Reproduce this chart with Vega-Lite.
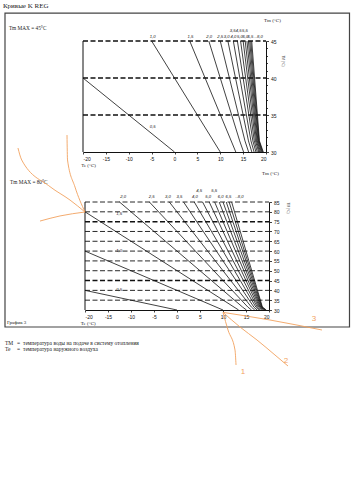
{
  "$schema": "https://vega.github.io/schema/vega-lite/v6.json",
  "width": 354,
  "height": 480,
  "autosize": "none",
  "padding": 0,
  "background": "white",
  "config": {
    "view": {"stroke": null},
    "axis": {"labelFont": "Liberation Sans", "labelFontSize": 5, "labelColor": "#111", "domainColor": "#111", "tickColor": "#111", "grid": false, "title": null, "domainWidth": 1, "tickWidth": 0.8}
  },
  "datasets": {
    "top_curves": [
      {"k": "0.5", "te": -20, "tm": 40}, {"k": "0.5", "te": 0, "tm": 30},
      {"k": "1.0", "te": -5, "tm": 45}, {"k": "1.0", "te": 10, "tm": 30},
      {"k": "1.5", "te": 3.33, "tm": 45}, {"k": "1.5", "te": 13.4, "tm": 30},
      {"k": "2.0", "te": 7.5, "tm": 45}, {"k": "2.0", "te": 14.25, "tm": 31.5}, {"k": "2.0", "te": 15.1, "tm": 30},
      {"k": "2.5", "te": 10, "tm": 45}, {"k": "2.5", "te": 15.4, "tm": 31.5}, {"k": "2.5", "te": 16.2, "tm": 30},
      {"k": "3.0", "te": 11.67, "tm": 45}, {"k": "3.0", "te": 16.17, "tm": 31.5}, {"k": "3.0", "te": 16.9, "tm": 30},
      {"k": "3.5", "te": 12.86, "tm": 45}, {"k": "3.5", "te": 16.71, "tm": 31.5}, {"k": "3.5", "te": 17.4, "tm": 30},
      {"k": "4.0", "te": 13.75, "tm": 45}, {"k": "4.0", "te": 17.13, "tm": 31.5}, {"k": "4.0", "te": 17.8, "tm": 30},
      {"k": "4.5", "te": 14.44, "tm": 45}, {"k": "4.5", "te": 17.44, "tm": 31.5}, {"k": "4.5", "te": 18.1, "tm": 30},
      {"k": "5.0", "te": 15, "tm": 45}, {"k": "5.0", "te": 17.7, "tm": 31.5}, {"k": "5.0", "te": 18.4, "tm": 30},
      {"k": "5.5", "te": 15.45, "tm": 45}, {"k": "5.5", "te": 17.91, "tm": 31.5}, {"k": "5.5", "te": 18.6, "tm": 30},
      {"k": "6.0", "te": 15.83, "tm": 45}, {"k": "6.0", "te": 18.08, "tm": 31.5}, {"k": "6.0", "te": 18.8, "tm": 30},
      {"k": "6.5", "te": 16.15, "tm": 45}, {"k": "6.5", "te": 18.23, "tm": 31.5}, {"k": "6.5", "te": 19.0, "tm": 30},
      {"k": "7.0", "te": 16.43, "tm": 45}, {"k": "7.0", "te": 18.36, "tm": 31.5}, {"k": "7.0", "te": 19.15, "tm": 30},
      {"k": "7.5", "te": 16.67, "tm": 45}, {"k": "7.5", "te": 18.47, "tm": 31.5}, {"k": "7.5", "te": 19.3, "tm": 30},
      {"k": "8.0", "te": 16.88, "tm": 45}, {"k": "8.0", "te": 18.56, "tm": 31.5}, {"k": "8.0", "te": 19.4, "tm": 30}
    ],
    "bottom_curves": [
      {"k": "0.5", "te": -20, "tm": 40}, {"k": "0.5", "te": 0, "tm": 30},
      {"k": "1.0", "te": -20, "tm": 60}, {"k": "1.0", "te": 10, "tm": 30},
      {"k": "1.5", "te": -20, "tm": 80}, {"k": "1.5", "te": 13.4, "tm": 30},
      {"k": "2.0", "te": -12.5, "tm": 85}, {"k": "2.0", "te": 14.25, "tm": 31.5}, {"k": "2.0", "te": 15.1, "tm": 30},
      {"k": "2.5", "te": -6, "tm": 85}, {"k": "2.5", "te": 15.4, "tm": 31.5}, {"k": "2.5", "te": 16.2, "tm": 30},
      {"k": "3.0", "te": -1.67, "tm": 85}, {"k": "3.0", "te": 16.17, "tm": 31.5}, {"k": "3.0", "te": 16.9, "tm": 30},
      {"k": "3.5", "te": 1.43, "tm": 85}, {"k": "3.5", "te": 16.71, "tm": 31.5}, {"k": "3.5", "te": 17.4, "tm": 30},
      {"k": "4.0", "te": 3.75, "tm": 85}, {"k": "4.0", "te": 17.13, "tm": 31.5}, {"k": "4.0", "te": 17.8, "tm": 30},
      {"k": "4.5", "te": 5.56, "tm": 85}, {"k": "4.5", "te": 17.44, "tm": 31.5}, {"k": "4.5", "te": 18.1, "tm": 30},
      {"k": "5.0", "te": 7, "tm": 85}, {"k": "5.0", "te": 17.7, "tm": 31.5}, {"k": "5.0", "te": 18.4, "tm": 30},
      {"k": "5.5", "te": 8.18, "tm": 85}, {"k": "5.5", "te": 17.91, "tm": 31.5}, {"k": "5.5", "te": 18.6, "tm": 30},
      {"k": "6.0", "te": 9.17, "tm": 85}, {"k": "6.0", "te": 18.08, "tm": 31.5}, {"k": "6.0", "te": 18.8, "tm": 30},
      {"k": "6.5", "te": 10, "tm": 85}, {"k": "6.5", "te": 18.23, "tm": 31.5}, {"k": "6.5", "te": 19.0, "tm": 30},
      {"k": "7.0", "te": 10.71, "tm": 85}, {"k": "7.0", "te": 18.36, "tm": 31.5}, {"k": "7.0", "te": 19.15, "tm": 30},
      {"k": "7.5", "te": 11.33, "tm": 85}, {"k": "7.5", "te": 18.47, "tm": 31.5}, {"k": "7.5", "te": 19.3, "tm": 30},
      {"k": "8.0", "te": 11.88, "tm": 85}, {"k": "8.0", "te": 18.56, "tm": 31.5}, {"k": "8.0", "te": 19.4, "tm": 30}
    ],
    "top_labels": [
      {"t": "1,0", "te": -4.8, "tm": 45.6}, {"t": "1,5", "te": 3.5, "tm": 45.6}, {"t": "2,0", "te": 7.6, "tm": 45.6},
      {"t": "2,5", "te": 10.0, "tm": 45.6}, {"t": "3,0", "te": 11.4, "tm": 45.6}, {"t": "4,0", "te": 12.9, "tm": 45.6},
      {"t": "5,0", "te": 14.3, "tm": 45.6}, {"t": "6,0", "te": 15.5, "tm": 45.6}, {"t": "6,5", "te": 16.6, "tm": 45.6},
      {"t": "..8,0", "te": 18.4, "tm": 45.6},
      {"t": "3,5", "te": 12.7, "tm": 46.3}, {"t": "4,5", "te": 14.0, "tm": 46.3}, {"t": "5,5", "te": 15.4, "tm": 46.3},
      {"t": "0,5", "te": -4.8, "tm": 33.4}
    ],
    "bottom_labels": [
      {"t": "2,0", "te": -11.7, "tm": 87.7}, {"t": "2,5", "te": -5.5, "tm": 87.7}, {"t": "3,0", "te": -2.0, "tm": 87.7},
      {"t": "3,5", "te": 0.5, "tm": 87.7}, {"t": "4,0", "te": 3.9, "tm": 87.7}, {"t": "5,0", "te": 6.8, "tm": 87.7},
      {"t": "6,0", "te": 9.5, "tm": 87.7}, {"t": "6,5", "te": 11.2, "tm": 87.7}, {"t": "..8,0", "te": 13.6, "tm": 87.7},
      {"t": "4,5", "te": 4.8, "tm": 90.8}, {"t": "5,5", "te": 8.1, "tm": 90.8},
      {"t": "1,5", "te": -12.6, "tm": 78.9}, {"t": "1,0", "te": -12.6, "tm": 60}, {"t": "0,5", "te": -12.6, "tm": 40}
    ],
    "scribbles": [
      {"s": "A", "o": 1, "te": -23.91, "tm": 119.1}, {"s": "A", "o": 2, "te": -23.8, "tm": 106.4}, {"s": "A", "o": 3, "te": -22.17, "tm": 92.6}, {"s": "A", "o": 4, "te": -20, "tm": 79.9},
      {"s": "B", "o": 1, "te": -34.57, "tm": 112.5}, {"s": "B", "o": 2, "te": -33.76, "tm": 106.4}, {"s": "B", "o": 3, "te": -27.6, "tm": 92.8}, {"s": "B", "o": 4, "te": -23.26, "tm": 86.0}, {"s": "B", "o": 5, "te": -20, "tm": 79.9},
      {"s": "C", "o": 1, "te": -20, "tm": 79.9}, {"s": "C", "o": 2, "te": -25.43, "tm": 77.9}, {"s": "C", "o": 3, "te": -29.78, "tm": 75.3},
      {"s": "D", "o": 1, "te": 10, "tm": 28.8}, {"s": "D", "o": 2, "te": 11.09, "tm": 19.8}, {"s": "D", "o": 3, "te": 12.61, "tm": 9.63}, {"s": "D", "o": 4, "te": 12.83, "tm": 2.0},
      {"s": "E", "o": 1, "te": 10, "tm": 28.8}, {"s": "E", "o": 2, "te": 13.7, "tm": 21.34}, {"s": "E", "o": 3, "te": 17.39, "tm": 14.72}, {"s": "E", "o": 4, "te": 21.3, "tm": 7.08}, {"s": "E", "o": 5, "te": 24.13, "tm": 1.48},
      {"s": "F", "o": 1, "te": 10, "tm": 28.8}, {"s": "F", "o": 2, "te": 20.22, "tm": 24.9}, {"s": "F", "o": 3, "te": 31.52, "tm": 19.81}
    ]
  },
  "layer": [
    {
      "encoding": {
        "x": {"field": "te", "type": "quantitative",
              "scale": {"domain": [-20, 20], "range": [83, 266], "nice": false, "zero": false},
              "axis": {"orient": "bottom", "offset": -328, "values": [-20, -15, -10, -5, 0, 5, 10, 15, 20], "labelExpr": "'' + datum.value", "tickSize": 2, "labelPadding": 2, "title": null}},
        "y": {"field": "tm", "type": "quantitative",
              "scale": {"domain": [30, 45], "range": [152, 41], "nice": false, "zero": false},
              "axis": {"orient": "right", "offset": -88, "values": [30, 31, 32, 33, 34, 35, 36, 37, 38, 39, 40, 41, 42, 43, 44, 45],
                       "labelExpr": "datum.value % 5 === 0 ? '' + datum.value : ''",
                       "tickSize": {"condition": {"test": "datum.value % 5 === 0", "value": 2.5}, "value": 1.5},
                       "labelPadding": 2, "title": null}}
      },
      "layer": [
        {
          "data": {"values": [{"te": -37.05, "te2": 38.25, "tm": 48.78, "tm2": 6.35}]},
          "mark": {"type": "rect", "fillOpacity": 0, "stroke": "#444", "strokeWidth": 1.2},
          "encoding": {"x2": {"field": "te2"}, "y2": {"field": "tm2"}}
        },
        {
          "data": {"values": [{"te": -20, "te2": 20, "tm": 35}, {"te": -20, "te2": 20, "tm": 40}, {"te": -20, "te2": 20, "tm": 45}]},
          "mark": {"type": "rule", "strokeDash": [5, 2.5], "strokeWidth": 1.3, "color": "#111"},
          "encoding": {"x2": {"field": "te2"}}
        },
        {
          "data": {"values": [{"te": -20, "tm": 30, "tm2": 45}]},
          "mark": {"type": "rule", "strokeWidth": 1, "color": "#111"},
          "encoding": {"y2": {"field": "tm2"}}
        },
        {
          "data": {"name": "top_curves"},
          "mark": {"type": "line", "strokeWidth": 0.8, "color": "#111"},
          "encoding": {"detail": {"field": "k"}, "order": {"field": "tm", "sort": "descending"}}
        },
        {
          "data": {"name": "top_labels"},
          "mark": {"type": "text", "font": "Liberation Sans", "fontStyle": "italic", "fontSize": 4.2, "color": "#222", "align": "center", "baseline": "middle"},
          "encoding": {"text": {"field": "t"}}
        },
        {
          "data": {"values": [{"t": "Кривые K REG", "te": -37.5, "tm": 49.7}]},
          "mark": {"type": "text", "font": "Liberation Serif", "fontSize": 7, "color": "#222", "align": "left", "baseline": "middle"},
          "encoding": {"text": {"field": "t"}}
        },
        {
          "data": {"values": [{"t": "Tm MAX = 45°C", "te": -36.2, "tm": 46.76}]},
          "mark": {"type": "text", "font": "Liberation Serif", "fontSize": 5.3, "color": "#222", "align": "left", "baseline": "middle"},
          "encoding": {"text": {"field": "t"}}
        },
        {
          "data": {"values": [{"t": "Tm (°C)", "te": 21.4, "tm": 47.9}]},
          "mark": {"type": "text", "font": "Liberation Serif", "fontSize": 5, "color": "#222", "align": "center", "baseline": "middle"},
          "encoding": {"text": {"field": "t"}}
        },
        {
          "data": {"values": [{"t": "Te (°C)", "te": -20.4, "tm": 28.2}]},
          "mark": {"type": "text", "font": "Liberation Serif", "fontSize": 5, "color": "#222", "align": "left", "baseline": "middle"},
          "encoding": {"text": {"field": "t"}}
        },
        {
          "data": {"values": [{"t": "TM (°C)", "te": 23.7, "tm": 42.3}]},
          "mark": {"type": "text", "font": "Liberation Sans", "fontSize": 3.2, "color": "#444", "align": "center", "baseline": "middle", "angle": 90},
          "encoding": {"text": {"field": "t"}}
        }
      ]
    },
    {
      "encoding": {
        "x": {"field": "te", "type": "quantitative",
              "scale": {"domain": [-20, 20], "range": [85, 269], "nice": false, "zero": false},
              "axis": {"orient": "bottom", "offset": -170, "values": [-20, -15, -10, -5, 0, 5, 10, 15, 20], "labelExpr": "'' + datum.value", "tickSize": 2, "labelPadding": 2, "title": null}},
        "y": {"field": "tm", "type": "quantitative",
              "scale": {"domain": [30, 85], "range": [310, 202], "nice": false, "zero": false},
              "axis": {"orient": "right", "offset": -85, "values": [30, 35, 40, 45, 50, 55, 60, 65, 70, 75, 80, 85],
                       "tickSize": 2.5, "labelPadding": 2, "title": null}}
      },
      "layer": [
        {
          "data": {"values": [
            {"te": -20, "te2": 20, "tm": 35}, {"te": -20, "te2": 20, "tm": 40}, {"te": -20, "te2": 20, "tm": 45},
            {"te": -20, "te2": 20, "tm": 50}, {"te": -20, "te2": 20, "tm": 55}, {"te": -20, "te2": 20, "tm": 60},
            {"te": -20, "te2": 20, "tm": 65}, {"te": -20, "te2": 20, "tm": 70}, {"te": -20, "te2": 20, "tm": 75},
            {"te": -20, "te2": 20, "tm": 80}, {"te": -20, "te2": 20, "tm": 85}
          ]},
          "mark": {"type": "rule", "strokeDash": [5, 2.5], "color": "#111"},
          "encoding": {"x2": {"field": "te2"},
                       "strokeWidth": {"condition": {"test": "datum.tm == 45 || datum.tm == 75", "value": 1.5}, "value": 0.9}}
        },
        {
          "data": {"values": [{"te": -20, "tm": 30, "tm2": 85}]},
          "mark": {"type": "rule", "strokeWidth": 1, "color": "#111"},
          "encoding": {"y2": {"field": "tm2"}}
        },
        {
          "data": {"name": "bottom_curves"},
          "mark": {"type": "line", "strokeWidth": 0.8, "color": "#111"},
          "encoding": {"detail": {"field": "k"}, "order": {"field": "tm", "sort": "descending"}}
        },
        {
          "data": {"name": "bottom_labels"},
          "mark": {"type": "text", "font": "Liberation Sans", "fontStyle": "italic", "fontSize": 4.2, "color": "#222", "align": "center", "baseline": "middle"},
          "encoding": {"text": {"field": "t"}}
        },
        {
          "data": {"values": [{"t": "Tm MAX = 80°C", "te": -36.3, "tm": 95.3}]},
          "mark": {"type": "text", "font": "Liberation Serif", "fontSize": 5.3, "color": "#222", "align": "left", "baseline": "middle"},
          "encoding": {"text": {"field": "t"}}
        },
        {
          "data": {"values": [{"t": "Tm (°C)", "te": 20.3, "tm": 99.9}]},
          "mark": {"type": "text", "font": "Liberation Serif", "fontSize": 5, "color": "#222", "align": "center", "baseline": "middle"},
          "encoding": {"text": {"field": "t"}}
        },
        {
          "data": {"values": [{"t": "Te (°C)", "te": -20.9, "tm": 23.4}]},
          "mark": {"type": "text", "font": "Liberation Serif", "fontSize": 5, "color": "#222", "align": "left", "baseline": "middle"},
          "encoding": {"text": {"field": "t"}}
        },
        {
          "data": {"values": [{"t": "График 3", "te": -36.96, "tm": 23.9}]},
          "mark": {"type": "text", "font": "Liberation Serif", "fontSize": 5, "color": "#222", "align": "left", "baseline": "middle"},
          "encoding": {"text": {"field": "t"}}
        },
        {
          "data": {"values": [{"t": "TM (°C)", "te": 24.07, "tm": 81.9}]},
          "mark": {"type": "text", "font": "Liberation Sans", "fontSize": 3.2, "color": "#444", "align": "center", "baseline": "middle", "angle": 90},
          "encoding": {"text": {"field": "t"}}
        },
        {
          "data": {"values": [{"t": "TM", "te": -37.39, "tm": 13.35}, {"t": "Te", "te": -37.39, "tm": 10.14}]},
          "mark": {"type": "text", "font": "Liberation Serif", "fontSize": 5.5, "color": "#222", "align": "left", "baseline": "middle"},
          "encoding": {"text": {"field": "t"}}
        },
        {
          "data": {"values": [{"t": "=", "te": -34.78, "tm": 13.35}, {"t": "=", "te": -34.78, "tm": 10.14}]},
          "mark": {"type": "text", "font": "Liberation Serif", "fontSize": 5.5, "color": "#222", "align": "left", "baseline": "middle"},
          "encoding": {"text": {"field": "t"}}
        },
        {
          "data": {"values": [{"t": "температура воды на подаче в систему отопления", "te": -33.48, "tm": 13.35}, {"t": "температура наружного воздуха", "te": -33.48, "tm": 10.14}]},
          "mark": {"type": "text", "font": "Liberation Serif", "fontSize": 5.5, "color": "#222", "align": "left", "baseline": "middle"},
          "encoding": {"text": {"field": "t"}}
        },
        {
          "data": {"name": "scribbles"},
          "mark": {"type": "line", "strokeWidth": 0.9, "color": "#f2a15f", "interpolate": "monotone"},
          "encoding": {"detail": {"field": "s"}, "order": {"field": "o"}}
        },
        {
          "data": {"values": [{"t": "1", "te": 14.35, "tm": -1.57}, {"t": "2", "te": 23.7, "tm": 4.03}, {"t": "3", "te": 29.78, "tm": 25.4}]},
          "mark": {"type": "text", "font": "Liberation Sans", "fontSize": 8, "color": "#f2a15f", "align": "center", "baseline": "middle"},
          "encoding": {"text": {"field": "t"}}
        }
      ]
    }
  ],
  "resolve": {"scale": {"x": "independent", "y": "independent"}}
}
